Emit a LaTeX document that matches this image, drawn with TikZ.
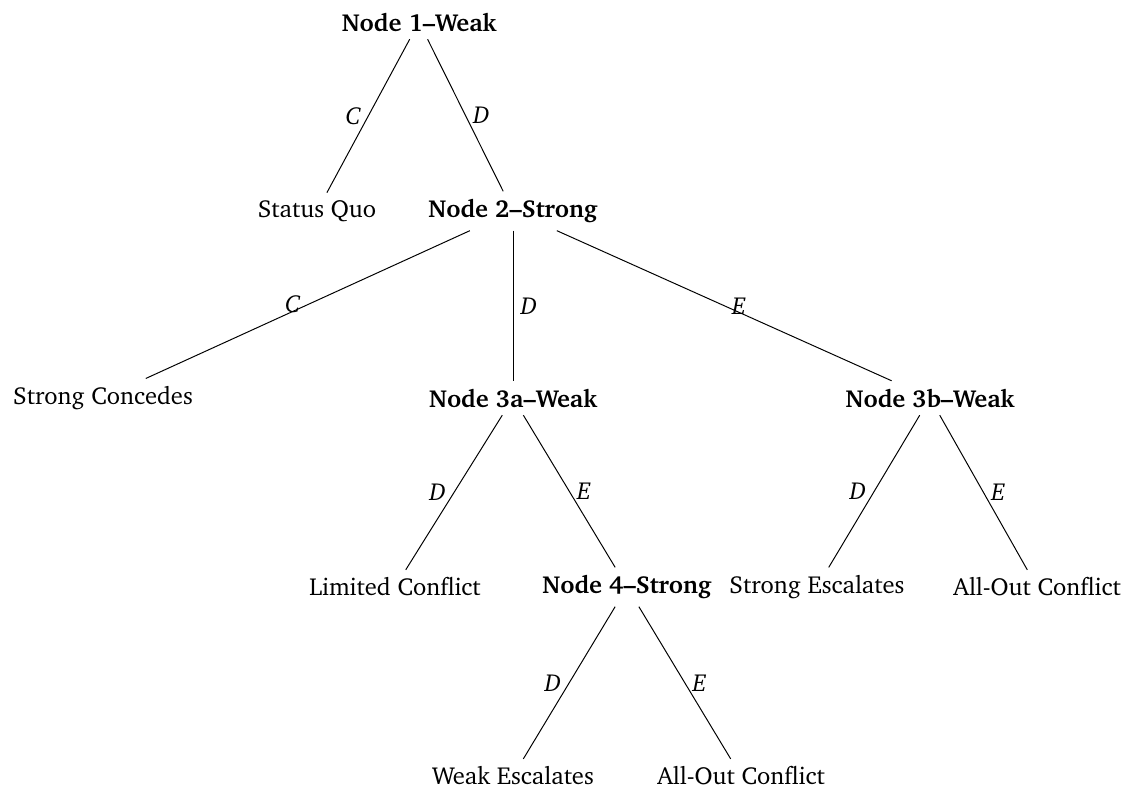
\documentclass[tikz,border=0pt]{standalone}
\usepackage[T1]{fontenc}
\usepackage{charter}
\begin{document}
\begin{tikzpicture}[x=0.0143cm,y=-0.0143cm,
  decnode/.style={font=\bfseries, inner sep=3pt},
  leafnode/.style={inner sep=3pt},
  lbl/.style={font=\itshape, inner sep=3pt},
  edgeline/.style={draw=black, line width=0.4pt}]
\useasboundingbox (0,0) rectangle (1139,792);
\node[decnode] (n1) at (419,22) {Node 1--Weak};
\node[leafnode] (sq) at (317,211) {Status Quo};
\node[decnode] (n2) at (513,211) {Node 2--Strong};
\node[leafnode] (sc) at (103,398) {Strong Concedes};
\node[decnode] (n3a) at (513,398) {Node 3a--Weak};
\node[decnode] (n3b) at (930,398) {Node 3b--Weak};
\node[leafnode] (lc) at (395,587) {Limited Conflict};
\node[decnode] (n4) at (627,587) {Node 4--Strong};
\node[leafnode] (se) at (817,587) {Strong Escalates};
\node[leafnode] (ao1) at (1037,587) {All-Out Conflict};
\node[leafnode] (we) at (513,776) {Weak Escalates};
\node[leafnode] (ao2) at (741,776) {All-Out Conflict};
\draw[edgeline] (n1) -- node[lbl,midway,left] {C} (sq);
\draw[edgeline] (n1) -- node[lbl,midway,right] {D} (n2);
\draw[edgeline] (n2) -- node[lbl,midway,left] {C} (sc);
\draw[edgeline] (n2) -- node[lbl,midway,right] {D} (n3a);
\draw[edgeline] (n2) -- node[lbl,midway,right] {E} (n3b);
\draw[edgeline] (n3a) -- node[lbl,midway,left] {D} (lc);
\draw[edgeline] (n3a) -- node[lbl,midway,right] {E} (n4);
\draw[edgeline] (n3b) -- node[lbl,midway,left] {D} (se);
\draw[edgeline] (n3b) -- node[lbl,midway,right] {E} (ao1);
\draw[edgeline] (n4) -- node[lbl,midway,left] {D} (we);
\draw[edgeline] (n4) -- node[lbl,midway,right] {E} (ao2);
\end{tikzpicture}
\end{document}
